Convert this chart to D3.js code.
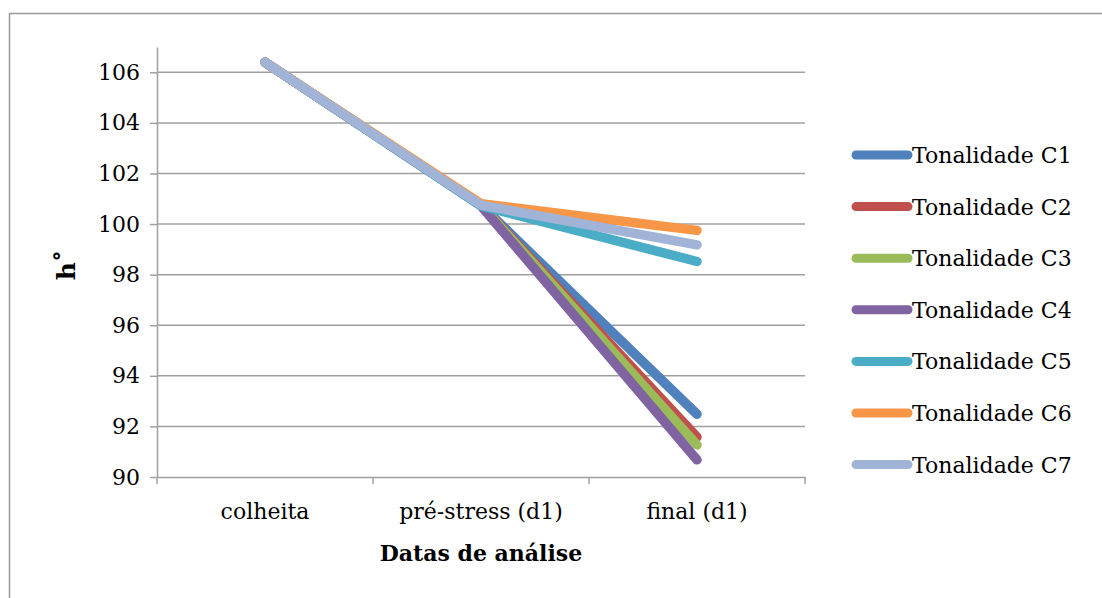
<!DOCTYPE html>
<html>
<head>
<meta charset="utf-8">
<script src="https://cdnjs.cloudflare.com/ajax/libs/d3/7.8.5/d3.min.js"></script>
<style>
  body { margin: 0; background: #fff; }
  text { font-family: "DejaVu Serif", serif; fill: #000; }
  .axis path, .axis line { stroke: #a0a0a0; stroke-width: 1.5; }
  .grid line { stroke: #a0a0a0; stroke-width: 1.5; }
</style>
</head>
<body>
<div id="chart"></div>
<script>
var categories = ["colheita", "pré-stress (d1)", "final (d1)"];
var seriesNames = ["Tonalidade C1", "Tonalidade C2", "Tonalidade C3", "Tonalidade C4",
                   "Tonalidade C5", "Tonalidade C6", "Tonalidade C7"];
var c1 = [106.4, 100.75, 92.48];
var c2 = [106.4, 100.75, 91.58];
var c3 = [106.4, 100.75, 91.27];
var c4 = [106.4, 100.72, 90.68];
var c5 = [106.4, 100.72, 98.52];
var c6 = [106.4, 100.8, 99.75];
var c7 = [106.4, 100.75, 99.18];
var yTicks = [90, 92, 94, 96, 98, 100, 102, 104, 106];
var colors = ["#4f81bd", "#c0504d", "#9bbb59", "#8064a2", "#4bacc6", "#f79646", "#a1b4d8"];

var series = [c1, c2, c3, c4, c5, c6, c7];

var width = 1102, height = 598;
var margin = { top: 47, left: 157, right: 297, bottom: 121 };
var plotW = width - margin.left - margin.right,
    plotH = height - margin.top - margin.bottom;

var svg = d3.select("#chart").append("svg")
  .attr("width", width)
  .attr("height", height);

// outer chart border
svg.append("rect")
  .attr("x", 9.5).attr("y", 13.5)
  .attr("width", 1200).attr("height", 700)
  .attr("fill", "none")
  .attr("stroke", "#999")
  .attr("stroke-width", 1.5);

var g = svg.append("g")
  .attr("transform", "translate(" + margin.left + "," + margin.top + ")");

var xScale = d3.scaleBand()
  .domain(categories)
  .range([0, plotW]);

var yScale = d3.scaleLinear()
  .domain([90, 107])
  .range([plotH, 0]);

// gridlines
g.append("g")
  .attr("class", "grid")
  .selectAll("line")
  .data(yTicks.filter(function(d) { return d > 90; }))
  .enter().append("line")
  .attr("x1", 0).attr("x2", plotW)
  .attr("y1", function(d) { return yScale(d); })
  .attr("y2", function(d) { return yScale(d); });

// y axis
var yAxis = g.append("g")
  .attr("class", "y axis")
  .call(d3.axisLeft(yScale).tickValues(yTicks).tickSize(7).tickSizeOuter(0).tickPadding(10));
yAxis.selectAll("text").style("font-size", "22px");

// x axis with ticks at band edges
var xAxis = g.append("g")
  .attr("class", "x axis")
  .attr("transform", "translate(0," + plotH + ")")
  .call(d3.axisBottom(xScale).tickSize(0).tickPadding(26));
xAxis.selectAll("text").style("font-size", "22px");
xAxis.selectAll(".edge")
  .data(d3.range(categories.length + 1))
  .enter().append("line")
  .attr("class", "edge")
  .attr("x1", function(i) { return i * xScale.step(); })
  .attr("x2", function(i) { return i * xScale.step(); })
  .attr("y1", 0).attr("y2", 7);

// lines
var line = d3.line()
  .x(function(d, i) { return xScale(categories[i]) + xScale.bandwidth() / 2; })
  .y(function(d) { return yScale(d); });

g.selectAll(".series")
  .data(series)
  .enter().append("path")
  .attr("class", "series")
  .attr("d", line)
  .attr("fill", "none")
  .attr("stroke", function(d, i) { return colors[i]; })
  .attr("stroke-width", 9.5)
  .attr("stroke-linecap", "round")
  .attr("stroke-linejoin", "round");

// axis titles
svg.append("text")
  .attr("x", margin.left + plotW / 2)
  .attr("y", 561)
  .attr("text-anchor", "middle")
  .style("font-size", "22px")
  .style("font-weight", "bold")
  .text("Datas de análise");

svg.append("text")
  .attr("transform", "translate(75,265) rotate(-90)")
  .attr("text-anchor", "middle")
  .style("font-size", "25px")
  .style("font-weight", "bold")
  .text("h˚");

// legend
var legend = svg.append("g")
  .attr("transform", "translate(852,155)");

var item = legend.selectAll(".item")
  .data(seriesNames)
  .enter().append("g")
  .attr("class", "item")
  .attr("transform", function(d, i) { return "translate(0," + (i * 51.6) + ")"; });

item.append("line")
  .attr("x1", 4).attr("x2", 56)
  .attr("y1", 0).attr("y2", 0)
  .attr("stroke", function(d, i) { return colors[i]; })
  .attr("stroke-width", 9)
  .attr("stroke-linecap", "round");

item.append("text")
  .attr("x", 60)
  .attr("y", 8)
  .style("font-size", "22px")
  .text(function(d) { return d; });
</script>
</body>
</html>
